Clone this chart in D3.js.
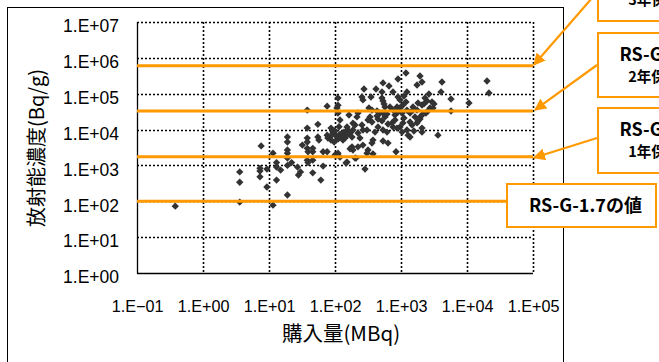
<!DOCTYPE html>
<html>
<head>
<meta charset="utf-8">
<script src="https://cdn.jsdelivr.net/npm/d3@7"></script>
<style>
  html, body { margin: 0; padding: 0; background: #fff; }
  svg { display: block; }
</style>
</head>
<body>
<svg id="chart" width="659" height="362"></svg>
<script>
// Purchased activity (MBq) and concentration (Bq/g) for each source
const purchaseMBq = [
  0.38, 3.6, 3.6, 3.6, 7.6, 7.3, 7.3, 7.3, 9.3, 9.3,
  11.5, 11.5, 13, 13, 15, 13, 19, 19, 19, 19,
  19, 19, 19, 22, 27, 30, 28, 32, 38, 38,
  38, 38, 38, 39, 38, 39, 46, 46, 46, 46,
  55, 55, 57, 61, 66, 66, 76, 76, 78, 76,
  84, 93, 107, 111, 119, 115, 100, 119, 128, 132,
  100, 111, 119, 152, 157, 169, 152, 181, 187, 187,
  215, 208, 147, 223, 111, 111, 256, 275, 265, 351,
  418, 534, 658, 515, 756, 900, 1190, 1940, 2080, 1750,
  1230, 1110, 2650, 515, 534, 553, 572, 900, 966, 2310,
  2480, 2230, 1810, 2080, 1520, 1750, 1190, 1070, 2950, 3160,
  3050, 2750, 2560, 2390, 2150, 2010, 1940, 327, 363, 433,
  481, 534, 433, 448, 515, 572, 614, 339, 316, 363,
  256, 265, 305, 681, 756, 870, 900, 966, 1040, 811,
  730, 756, 870, 966, 1040, 1070, 1230, 1370, 1520, 1630,
  1370, 1470, 1750, 1810, 1230, 1280, 1370, 2080, 2080, 534,
  614, 376, 363, 316, 305, 376, 223, 265, 169, 201,
  285, 840, 534, 635, 4180, 4040, 5720, 5720, 3630, 10700,
  20100, 21500, 87, 93, 104, 87, 97, 137, 142, 152,
  181, 187, 104, 111, 201, 223, 239, 163, 1570, 1110,
  811, 635, 448, 404
];
const concentrationBqg = [
  73, 660, 340, 95, 3500, 830, 700, 480, 790, 250,
  2200, 78, 1200, 900, 740, 390, 6200, 4500, 2700, 2200,
  1600, 1000, 150, 1200, 900, 660, 540, 3700, 35000, 11000,
  5800, 4500, 3000, 2400, 1400, 1200, 3000, 2400, 1400, 620,
  14000, 6200, 5100, 390, 2400, 960, 45000, 7000, 5800, 2400,
  6200, 8000, 40000, 29000, 18500, 12000, 9100, 7500, 6200, 5100,
  1950, 2200, 1700, 11800, 9700, 8000, 1240, 3300, 2700, 15000,
  22500, 1600, 1170, 29000, 76000, 48000, 81000, 135000, 67000, 81000,
  135000, 200000, 164000, 112000, 112000, 257000, 378000, 312000, 212000, 175000,
  112000, 86000, 98000, 76000, 63000, 52000, 42700, 81000, 67000, 76000,
  63000, 52000, 55000, 48500, 42700, 35000, 59000, 48500, 59000, 52000,
  40000, 40000, 33000, 29000, 27000, 24000, 19700, 40000, 35000, 33000,
  29000, 29000, 24000, 19700, 17400, 22500, 27000, 22500, 18500, 16300,
  13400, 9700, 9700, 42700, 35000, 42700, 31000, 40000, 29000, 25500,
  15300, 11800, 11000, 11800, 8500, 15300, 35000, 29000, 35000, 22500,
  16300, 13400, 15300, 17400, 9700, 7000, 6200, 11000, 8500, 9700,
  8500, 5100, 4200, 2700, 2200, 2100, 3300, 3700, 2900, 1600,
  790, 2400, 4800, 4200, 212000, 112000, 71000, 33000, 7000, 55000,
  226000, 105000, 11000, 9100, 6600, 5100, 4500, 8500, 5800, 7000,
  6200, 9700, 1950, 5400, 13400, 8000, 5800, 25500, 9100, 21000,
  18500, 14300, 11800, 8500
];

// Reference concentration levels (Bq/g)
const levelValues = [100, 1750, 33000, 600000];
const levelLabels = [
  ["RS-G-1.7の値"],
  ["RS-G-1.7の値", "1年保管後の値"],
  ["RS-G-1.7の値", "2年保管後の値"],
  ["RS-G-1.7の値", "3年保管後の値"]
];

// Axis ticks
const xTicks = [0.1, 1, 10, 100, 1000, 10000, 100000];
const xTickLabels = ["1.E\u221201", "1.E+00", "1.E+01", "1.E+02", "1.E+03", "1.E+04", "1.E+05"];
const yTicks = [1, 10, 100, 1000, 10000, 100000, 1000000, 10000000];
const yTickLabels = ["1.E+00", "1.E+01", "1.E+02", "1.E+03", "1.E+04", "1.E+05", "1.E+06", "1.E+07"];

const xTitle = "購入量(MBq)";
const yTitle = "放射能濃度(Bq/g)";

const ORANGE = "#ff9900";
const svg = d3.select("#chart");

const plot = { left: 137, right: 533, top: 22, bottom: 273 };
const x = d3.scaleLog().domain([0.1, 1e5]).range([plot.left, plot.right]);
const y = d3.scaleLog().domain([1, 1e7]).range([plot.bottom, plot.top]);

// Outer chart frame
svg.append("rect")
  .attr("x", 7.5).attr("y", 7.5)
  .attr("width", 556).attr("height", 420)
  .attr("fill", "#fff").attr("stroke", "#000").attr("stroke-width", 1);

// Dotted gridlines
const grid = svg.append("g").attr("stroke", "#000").attr("stroke-width", 1.6)
  .attr("stroke-dasharray", "2,2");
grid.selectAll("line.v").data(xTicks.slice(1)).join("line")
  .attr("x1", d => Math.round(x(d)) + 0.5).attr("x2", d => Math.round(x(d)) + 0.5)
  .attr("y1", plot.top).attr("y2", plot.bottom);
grid.selectAll("line.h").data(yTicks.slice(1)).join("line")
  .attr("y1", d => Math.round(y(d)) + 0.5).attr("y2", d => Math.round(y(d)) + 0.5)
  .attr("x1", plot.left).attr("x2", plot.right);

// Solid axis lines on the left and bottom
svg.append("line").attr("x1", plot.left + 0.5).attr("x2", plot.left + 0.5)
  .attr("y1", plot.top).attr("y2", plot.bottom + 0.5).attr("stroke", "#000").attr("stroke-width", 1.3);
svg.append("line").attr("x1", plot.left).attr("x2", plot.right)
  .attr("y1", plot.bottom + 0.5).attr("y2", plot.bottom + 0.5).attr("stroke", "#000").attr("stroke-width", 1.3);

// Axis tick labels
const tickFont = "'Liberation Sans', Arial, sans-serif";
const xAxis = svg.append("g").attr("transform", `translate(0,${plot.bottom})`)
  .call(d3.axisBottom(x).tickValues(xTicks).tickSize(0).tickPadding(27)
    .tickFormat((d, i) => xTickLabels[i]));
xAxis.select(".domain").remove();
xAxis.selectAll("text").attr("font-family", tickFont).attr("font-size", 16.2).attr("fill", "#000");

const yAxis = svg.append("g").attr("transform", `translate(${plot.left},0)`)
  .call(d3.axisLeft(y).tickValues(yTicks).tickSize(0).tickPadding(18)
    .tickFormat((d, i) => yTickLabels[i]));
yAxis.select(".domain").remove();
yAxis.selectAll("text").attr("font-family", tickFont).attr("font-size", 17.5)
  .attr("dy", "0.56em").attr("fill", "#000");

// Axis titles
svg.append("text").text(xTitle)
  .attr("x", 341).attr("y", 341).attr("text-anchor", "middle")
  .attr("font-family", "'Noto Sans CJK JP', sans-serif").attr("font-size", 20.5);
svg.append("text").text(yTitle)
  .attr("transform", "translate(44,148) rotate(-90)").attr("text-anchor", "middle")
  .attr("font-family", "'Noto Sans CJK JP', sans-serif").attr("font-size", 20);

// Scatter points (diamonds)
const points = purchaseMBq.map((v, i) => ({ x: v, y: concentrationBqg[i] }));
const diamond = d3.symbol().type(d3.symbolSquare).size(27);
svg.append("g").selectAll("path").data(points).join("path")
  .attr("d", diamond)
  .attr("transform", d => `translate(${x(d.x)},${y(d.y)}) rotate(45)`)
  .attr("fill", "#333");

// Reference level lines
const boxLeft = [506, 597, 597, 597];
svg.append("g").selectAll("line").data(levelValues).join("line")
  .attr("x1", plot.left)
  .attr("x2", (d, i) => i === 0 ? boxLeft[0] : plot.right)
  .attr("y1", d => y(d)).attr("y2", d => y(d))
  .attr("stroke", ORANGE).attr("stroke-width", 3);

// Callout boxes
const boxes = [
  { x: 506, y: 183, w: 151, h: 45 },
  { x: 597, y: 107, w: 158, h: 67 },
  { x: 597, y: 32, w: 158, h: 66 },
  { x: 597, y: -45, w: 158, h: 67 }
];
const calloutFont = "'Noto Sans CJK JP', sans-serif";

// Arrows from callouts to the level lines
const defs = svg.append("defs");
defs.append("marker").attr("id", "head")
  .attr("viewBox", "0 0 10 10").attr("refX", 9).attr("refY", 5)
  .attr("markerWidth", 5.5).attr("markerHeight", 5.5).attr("orient", "auto")
  .attr("markerUnits", "strokeWidth")
  .append("path").attr("d", "M0,0 L10,5 L0,10 Z").attr("fill", ORANGE);
const arrows = [
  null,
  { x1: 597, y1: 138, x2: 534, y2: y(levelValues[1]) + 1 },
  { x1: 597, y1: 65, x2: 535, y2: y(levelValues[2]) - 1 },
  { x1: 599, y1: -10, x2: 534, y2: y(levelValues[3]) - 1 }
];
svg.append("g").selectAll("line").data(arrows.filter(a => a)).join("line")
  .attr("x1", d => d.x1).attr("y1", d => d.y1)
  .attr("x2", d => d.x2).attr("y2", d => d.y2)
  .attr("stroke", ORANGE).attr("stroke-width", 2.2)
  .attr("marker-end", "url(#head)");

const boxG = svg.append("g").selectAll("g").data(boxes).join("g");
boxG.append("rect")
  .attr("x", d => d.x + 1).attr("y", d => d.y + 1)
  .attr("width", d => d.w - 2).attr("height", d => d.h - 2)
  .attr("fill", "#fff").attr("stroke", ORANGE).attr("stroke-width", 2);
boxG.each(function (d, i) {
  const lines = levelLabels[i];
  const g = d3.select(this);
  const cx = d.x + d.w / 2 + (i === 0 ? 4 : 0);
  const lh = 21;
  const y0 = d.y + d.h / 2 - (lines.length - 1) * lh / 2 + 6;
  lines.forEach((t, j) => {
    g.append("text").text(t)
      .attr("x", cx).attr("y", y0 + j * lh)
      .attr("text-anchor", "middle")
      .attr("font-family", calloutFont).attr("font-weight", "bold")
      .attr("font-size", j === 0 ? 18 : 14.5).attr("fill", "#000");
  });
});
</script>
</body>
</html>
